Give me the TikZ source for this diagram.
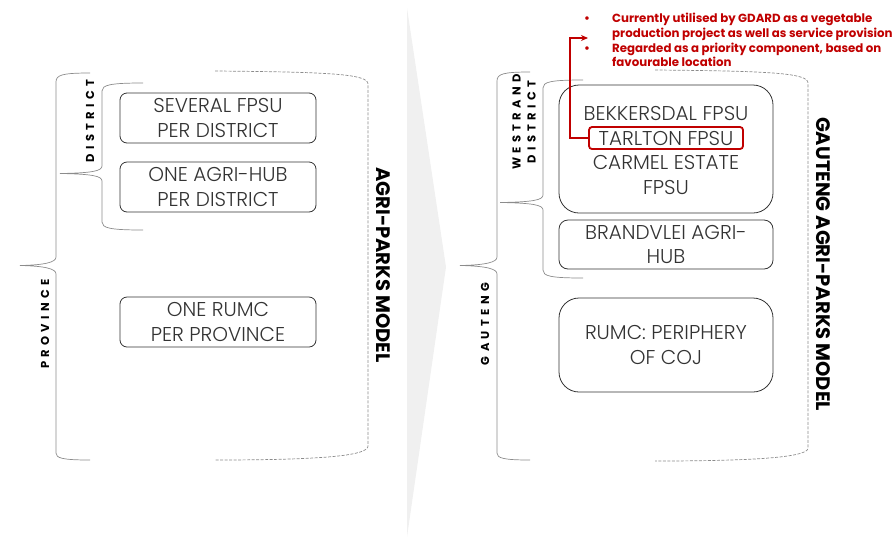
\documentclass[tikz,border=0pt]{standalone}
\usepackage{fontspec}
\IfFontExistsTF{Poppins Light}{\setmainfont{Poppins Light}[BoldFont=Poppins SemiBold]}{\setmainfont{Poppins}}
\newfontfamily\spacedfont[LetterSpace=38]{Poppins}
\newfontfamily\titlefont{Poppins}
\usetikzlibrary{arrows.meta, positioning}
\definecolor{notered}{HTML}{C00000}
\definecolor{boxtext}{HTML}{333333}
\definecolor{bracegray}{HTML}{8C8C8C}
\definecolor{chevrongray}{HTML}{F0F0F0}

\begin{document}
\begin{tikzpicture}[x=1pt, y=-1pt,
    stage/.style={draw=boxtext, line width=0.8pt, rounded corners=7pt, align=center,
        text=boxtext, font=\fontsize{20}{24.5}\selectfont, inner sep=0pt},
    level/.style={rotate=90, align=center, font=\spacedfont\bfseries\fontsize{11.5}{15}\selectfont},
    model/.style={rotate=-90, font=\titlefont\bfseries\fontsize{19.5}{22}\selectfont},
    brace/.style={draw=bracegray, line width=0.7pt},
    bracket/.style={draw=bracegray, line width=0.7pt, dash pattern=on 3pt off 1.5pt}]
    \useasboundingbox (0,0) rectangle (896,539);

    % Chevron between the two models
    \fill[chevrongray] (407,8) -- (446,267) -- (407,537) -- cycle;

    % Left model: braces
    \draw[brace] (90,73) .. controls (62,73) and (56,75) .. (56,82) -- (56,257)
        .. controls (56,262) and (46,265) .. (20,265.5)
        .. controls (46,266) and (56,269) .. (56,274) -- (56,453)
        .. controls (56,458) and (62,460) .. (90,460);
    \draw[brace] (143,83) .. controls (110,83) and (102,85) .. (102,91) -- (102,166)
        .. controls (102,171) and (92,173) .. (60,173.5)
        .. controls (92,174) and (102,176) .. (102,181) -- (102,222)
        .. controls (102,228) and (110,230) .. (143,230);
    \draw[bracket] (215,71) .. controls (330,72) and (368,74) .. (368,84) -- (368,446)
        .. controls (368,455) and (330,460) .. (215,460);

    \node[level] (province) at (45,324) {PROVINCE};
    \node[level] (district) at (90,121) {DISTRICT};

    % Left model: components
    \node[stage, minimum width=196pt, minimum height=50pt] (fpsu) at (218,118) {SEVERAL FPSU\\PER DISTRICT};
    \node[stage, minimum width=196pt, minimum height=50pt] (hub) at (218,187) {ONE AGRI-HUB\\PER DISTRICT};
    \node[stage, minimum width=196pt, minimum height=50pt] (rumc) at (218,322) {ONE RUMC\\PER PROVINCE};
    \node[model] (title) at (383,265) {AGRI-PARKS MODEL};

    % Right model: braces
    \draw[brace] (530,72) .. controls (503,72) and (497,74) .. (497,81) -- (497,257)
        .. controls (497,262) and (487,265) .. (460,265.5)
        .. controls (487,266) and (497,269) .. (497,274) -- (497,453)
        .. controls (497,458) and (503,460) .. (530,460);
    \draw[brace] (583,80) .. controls (550,80) and (543,82) .. (543,88) -- (543,195)
        .. controls (543,200) and (533,202) .. (500,202.5)
        .. controls (533,203) and (543,205) .. (543,210) -- (543,270)
        .. controls (543,276) and (550,278) .. (583,278);
    \draw[bracket] (655,70) .. controls (770,71) and (808,73) .. (808,83) -- (808,448)
        .. controls (808,456) and (770,461) .. (655,461);

    \node[level] (gauteng) at (485,324) {GAUTENG};
    \node[level] (westrand) at (524,122) {WESTRAND\\DISTRICT};

    % Right model: components
    \node[stage, rounded corners=20pt, minimum width=214pt, minimum height=128pt] (fpsus) at (666,149) {};
    \node[text=boxtext, font=\fontsize{20}{24.5}\selectfont] (bekkersdal) at (666,113) {BEKKERSDAL FPSU};
    \node[draw=notered, line width=1.8pt, rounded corners=3pt, minimum width=154pt, minimum height=22pt,
        inner sep=0pt, text=boxtext, font=\fontsize{20}{24.5}\selectfont] (tarlton) at (666,138) {TARLTON FPSU};
    \node[text=boxtext, align=center, font=\fontsize{20}{24.5}\selectfont] (carmel) at (666,175) {CARMEL ESTATE\\FPSU};
    \node[stage, rounded corners=9pt, minimum width=214pt, minimum height=49pt] (brandvlei) at (666,244.5) {BRANDVLEI AGRI-\\HUB};
    \node[stage, rounded corners=20pt, minimum width=214pt, minimum height=94pt] (periphery) at (666,345) {RUMC: PERIPHERY\\OF COJ};
    \node[model] (gtitle) at (823,264) {GAUTENG AGRI-PARKS MODEL};

    % Note on Tarlton
    \node[anchor=north west, inner sep=0pt, align=left, text=notered,
        font=\titlefont\bfseries\fontsize{11.8}{14.7}\selectfont] (notes) at (584,13)
        {\makebox[28pt][l]{\textbullet}Currently utilised by GDARD as a vegetable\\
         \hspace*{28pt}production project as well as service provision\\
         \makebox[28pt][l]{\textbullet}Regarded as a priority component, based on\\
         \hspace*{28pt}favourable location};
    \coordinate (noteend) at (588,38);
    \draw[notered, line width=2pt, -{Stealth[length=7pt, width=6pt]}] (tarlton.west) -- ++(-18,0) |- (noteend);
\end{tikzpicture}
\end{document}
